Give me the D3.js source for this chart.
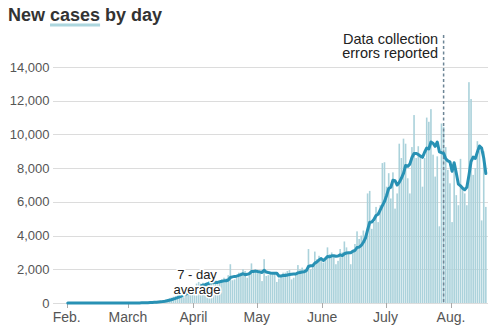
<!DOCTYPE html>
<html><head><meta charset="utf-8">
<script src="https://cdn.jsdelivr.net/npm/d3@7"></script>
<style>body{margin:0;background:#fff}svg{display:block}</style>
</head><body><svg id="c" width="501" height="331"></svg>
<script>
// ---------- data ----------
const startDate = "2020-02-01";
const febCases = [0,0,1,0,0,0,0,0,0,1,0,0,0,0,0,0,0,0,0,0,0,1,0,0,1,0,2,1,3];
const marCases = [3,2,5,8,12,14,18,22,28,36,42,55,70,85,100,120,145,180,230,270,320,370,400,450,520,590,640,700,750,810,870];
const aprCases = [1000,1150,1250,1150,1200,950,1200,1300,1400,1350,1250,1100,1200,1400,1500,1450,1650,2300,1350,1400,1500,1800,1800,2000,1900,1500,1700,2350,1850,1950];
const mayCases = [1800,1750,1300,2600,1600,1650,1800,1700,1750,1250,1450,1650,1800,1800,1900,1950,1400,1500,1700,2250,2000,2100,2000,1900,3200,2000,2300,3050,2600,2800,2500];
const junCases = [2400,2700,3300,2900,3000,2800,2300,2500,3200,3000,3650,3300,2950,2300,3100,3500,4250,3800,4000,4300,4000,6500,6650,4400,4800,5700,4800,5800,8300,8350];
const julCases = [6900,7700,6200,7750,5600,6500,9450,8600,9750,9450,7400,6500,9250,11150,8600,9300,8800,6900,8600,11000,10750,11500,8800,7500,8700,4550,10650,10450,9250,7900,7100];
const augCases = [4800,8100,6400,5800,8550,6900,6500,5800,13100,12100,7600,8000,9600,9000,4900,9000,5700];

const yTicks = [0,2000,4000,6000,8000,10000,12000,14000];
const monthTicks = ["2020-02-01","2020-03-01","2020-04-01","2020-05-01","2020-06-01","2020-07-01","2020-08-01"];
const monthLabels = ["Feb.","March","April","May","June","July","Aug."];
const annotationDate = "2020-07-28";
const annotationLines = ["Data collection","errors reported"];
const avgLabelLines = ["7 - day","average"];
const titleText = "New cases by day";

// ---------- build ----------
const parse = d3.utcParse("%Y-%m-%d");
const t0 = parse(startDate);
const daily = [].concat(febCases, marCases, aprCases, mayCases, junCases, julCases, augCases)
  .map((v,i)=>({date: d3.utcDay.offset(t0,i), value: v}));
daily.forEach((d,i)=>{
  const w = daily.slice(Math.max(0,i-6), i+1);
  d.avg = d3.mean(w, e=>e.value);
});

const svg = d3.select("#c");
const x = d3.scaleUtc().domain([parse("2020-02-01"), parse("2020-08-01")]).range([66.7, 451]);
const y = d3.scaleLinear().domain([0,14000]).range([303, 67]);
const bw = x(d3.utcDay.offset(t0,1)) - x(t0);
const narrow = "'Liberation Sans Narrow','Arial Narrow','Liberation Sans',sans-serif";
const reg = "'Liberation Sans',Arial,sans-serif";

// title underline (drawn first, under the text)
const underline = svg.append("rect").attr("fill","#acd6de");

// gridlines + y labels
const gy = svg.append("g");
gy.selectAll("line").data(yTicks).join("line")
  .attr("x1",53).attr("x2",488)
  .attr("y1",d=>Math.round(y(d))+0.5).attr("y2",d=>Math.round(y(d))+0.5)
  .attr("stroke","#dcdcdc").attr("stroke-width",1);
gy.selectAll("text").data(yTicks).join("text")
  .attr("x",49.5).attr("y",d=>y(d)).attr("dy","0.35em")
  .attr("text-anchor","end").attr("font-family",reg).attr("font-size",13)
  .attr("fill","#555").text(d=>d3.format(",")(d));

// x ticks
const gx = svg.append("g");
gx.selectAll("line").data(monthTicks).join("line")
  .attr("x1",d=>Math.round(x(parse(d)))+0.5).attr("x2",d=>Math.round(x(parse(d)))+0.5)
  .attr("y1",303).attr("y2",308).attr("stroke","#aaa");
gx.selectAll("text").data(monthTicks).join("text")
  .attr("x",d=>x(parse(d))).attr("y",322).attr("text-anchor","middle")
  .attr("font-family",narrow).attr("font-size",14).attr("fill","#555")
  .text((d,i)=>monthLabels[i]);

// bars
svg.append("g").selectAll("rect").data(daily).join("rect")
  .attr("x",d=>x(d.date)+0.25).attr("width",bw-0.5)
  .attr("y",d=>y(d.value)).attr("height",d=>y(0)-y(d.value))
  .attr("fill","#abd2db");

// annotation dashed line
const ax = x(parse(annotationDate)) + bw/2;
svg.append("line").attr("x1",ax).attr("x2",ax).attr("y1",35).attr("y2",303)
  .attr("stroke","#6d8596").attr("stroke-width",1.5).attr("stroke-dasharray","3,2.5");

// average line
svg.append("path").datum(daily)
  .attr("d", d3.line().x(d=>x(d.date)+bw/2).y(d=>y(d.avg)))
  .attr("fill","none").attr("stroke","#2891b4").attr("stroke-width",3)
  .attr("stroke-linejoin","round").attr("stroke-linecap","round");

// annotation text (one text block, two lines)
const at = svg.append("text").attr("text-anchor","end")
  .attr("font-family",narrow).attr("font-size",14.5).attr("fill","#222");
at.selectAll("tspan").data(annotationLines).join("tspan")
  .attr("x",ax-5.5).attr("y",(d,i)=>43.5+i*14.5).text(d=>d);

// 7-day average label with halo (one text block, two lines)
const lt = svg.append("text").attr("text-anchor","middle")
  .attr("font-family",narrow).attr("font-size",13).attr("fill","#222")
  .attr("stroke","#fff").attr("stroke-width",3).attr("paint-order","stroke");
lt.selectAll("tspan").data(avgLabelLines).join("tspan")
  .attr("x",197).attr("y",(d,i)=>279+i*15).text(d=>d);

// title
const title = svg.append("text").attr("x",8).attr("y",21)
  .attr("font-family",narrow).attr("font-weight","bold").attr("font-size",18)
  .attr("fill","#333").text(titleText);
const tn = title.node();
const si = titleText.indexOf("cases");
const sx = tn.getStartPositionOfChar(si).x;
const sw = tn.getSubStringLength(si, 5);
underline.attr("x",sx).attr("y",23.5).attr("width",sw).attr("height",3);
</script></body></html>
